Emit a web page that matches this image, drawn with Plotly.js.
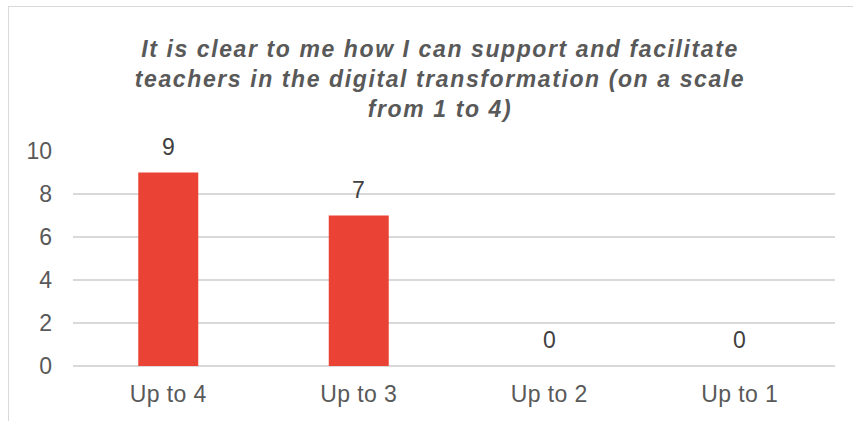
<!DOCTYPE html>
<html>
<head>
<meta charset="utf-8">
<script src="https://cdn.plot.ly/plotly-3.0.1.min.js"></script>
<style>
  html, body { margin: 0; padding: 0; background: #ffffff; overflow: hidden; }
  #frame { position: absolute; left: 8px; top: 6px; width: 900px; height: 500px;
           border-left: 1.5px solid #d9d9d9; border-top: 1.5px solid #d9d9d9; z-index: 0; }
  #chart { position: absolute; left: 0; top: 0; width: 853px; height: 421px; z-index: 1; }
  #chart .gtitle { letter-spacing: 1.6px; }
  #chart .xtick text { letter-spacing: 0.4px; }
</style>
</head>
<body>
<div id="frame"></div>
<div id="chart"></div>
<script>
const categories = ["Up to 4", "Up to 3", "Up to 2", "Up to 1"];
const counts = [9, 7, 0, 0];
const yTicks = [0, 2, 4, 6, 8, 10];
const chartTitle = "It is clear to me how I can support and facilitate<br>teachers in the digital transformation (on a scale<br>from 1 to 4)";

const textColor = "#595959";
const font = "Liberation Sans, Arial, sans-serif";

const trace = {
  type: "bar",
  x: categories,
  y: counts,
  marker: { color: "#EA4335" },
  hoverinfo: "none"
};

const labels = categories.map((c, i) => ({
  x: c,
  y: counts[i],
  xref: "x",
  yref: "y",
  text: String(counts[i]),
  showarrow: false,
  yanchor: "bottom",
  yshift: 11,
  font: { family: font, size: 23, color: "#404040" }
}));

const layout = {
  width: 853,
  height: 421,
  margin: { l: 73, r: 18, t: 151, b: 55 },
  paper_bgcolor: "rgba(0,0,0,0)",
  plot_bgcolor: "rgba(0,0,0,0)",
  bargap: 0.685,
  showlegend: false,
  annotations: labels,
  title: {
    text: "<b><i>" + chartTitle + "</i></b>",
    font: { family: font, size: 23, color: textColor },
    x: 440 / 853,
    xref: "container",
    xanchor: "center",
    y: 1 - 57 / 421,
    yref: "container",
    yanchor: "top"
  },
  xaxis: {
    type: "category",
    showgrid: false,
    showline: false,
    ticks: "",
    ticklabelstandoff: 12,
    tickfont: { family: font, size: 23, color: textColor },
    fixedrange: true
  },
  yaxis: {
    range: [0, 10],
    tickvals: yTicks,
    ticktext: yTicks.map(String),
    showgrid: true,
    gridcolor: "#d9d9d9",
    gridwidth: 1.5,
    zeroline: true,
    zerolinecolor: "#d9d9d9",
    zerolinewidth: 1.5,
    showline: false,
    ticks: "",
    ticklabelstandoff: 20,
    tickfont: { family: font, size: 23, color: textColor },
    fixedrange: true
  }
};

Plotly.newPlot("chart", [trace], layout, { displayModeBar: false, staticPlot: true });
</script>
</body>
</html>
